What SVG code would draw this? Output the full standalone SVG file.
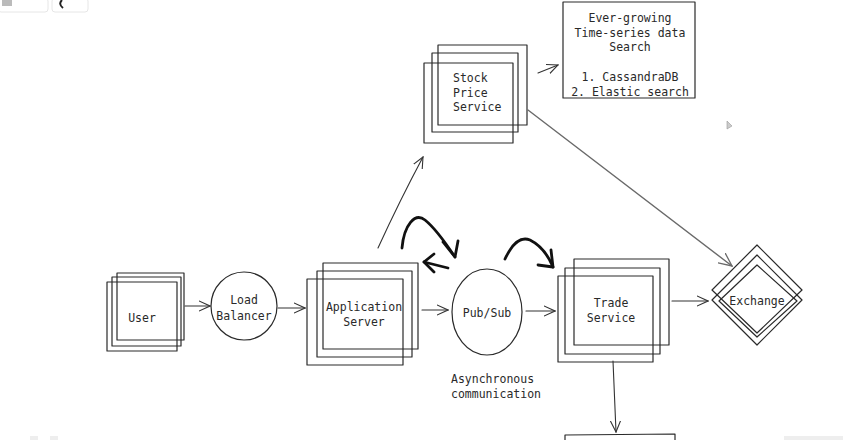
<svg xmlns="http://www.w3.org/2000/svg" width="843" height="440" viewBox="0 0 843 440">
<defs>
<style>
.s{fill:none;stroke:#2a2a2a;stroke-width:1.2;stroke-linejoin:round}
.c{fill:none;stroke:#333;stroke-width:1.1;stroke-linecap:round}
.g{fill:none;stroke:#6a6a6a;stroke-width:1.4;stroke-linecap:round}
.k{fill:none;stroke:#111;stroke-width:2.8;stroke-linecap:round;stroke-linejoin:round}
text{font-family:"DejaVu Sans Mono","Liberation Mono",monospace;font-size:11.5px;fill:#2a2a2a;text-anchor:middle}
.l{text-anchor:start}
.ui{fill:none;stroke:#e6e6e6;stroke-width:1}
</style>
<marker id="ah" viewBox="0 0 12 12" refX="11" refY="6" markerWidth="12" markerHeight="12" markerUnits="userSpaceOnUse" orient="auto">
<path d="M0,1 L11,6 L0,11" fill="none" stroke="#333" stroke-width="1.1" stroke-linecap="round"/>
</marker>
<marker id="ahg" viewBox="0 0 14 14" refX="13" refY="7" markerWidth="14" markerHeight="14" markerUnits="userSpaceOnUse" orient="auto">
<path d="M0,1 L13,7 L0,13" fill="none" stroke="#6a6a6a" stroke-width="1.3" stroke-linecap="round"/>
</marker>
</defs>
<rect width="843" height="440" fill="#fff"/>
<!-- faint UI chrome -->
<g id="ui">
<rect class="ui" x="-2" y="-2" width="50" height="14" rx="3"/>
<rect class="ui" x="52" y="-2" width="36" height="14" rx="3"/>
<rect x="2" y="0" width="10" height="6" fill="#bbb"/>
<path d="M62,0 Q58,4 63,8" fill="none" stroke="#222" stroke-width="2"/>
<rect x="784" y="436" width="60" height="6" fill="#eee"/>
<rect x="30" y="436" width="8" height="6" fill="#eee"/>
<rect x="50" y="436" width="8" height="6" fill="#eee"/>
<path d="M727,121 L727,129 L732,126 Z" fill="#ccc" stroke="#999" stroke-width="0.6"/>
</g>

<g id="user">
<rect class="s" x="117" y="273" width="67" height="67"/>
<rect class="s" x="112" y="277" width="69" height="69"/>
<rect class="s" x="107" y="282" width="70" height="69"/>
<text x="142" y="322">User</text>
</g>

<g id="load-balancer">
<ellipse class="s" cx="244" cy="306" rx="33" ry="34"/>
<text x="244" y="304">Load</text>
<text x="244" y="320">Balancer</text>
</g>

<g id="application-server">
<rect class="s" x="323" y="263" width="95" height="86"/>
<rect class="s" x="317" y="271" width="95" height="86"/>
<rect class="s" x="307" y="279" width="96" height="86"/>
<text x="364" y="311">Application</text>
<text x="364" y="326">Server</text>
</g>

<g id="pub-sub">
<ellipse class="s" cx="487" cy="312" rx="35" ry="43"/>
<text x="487" y="317">Pub/Sub</text>
</g>

<g id="async-label">
<text class="l" x="451" y="383">Asynchronous</text>
<text class="l" x="451" y="398">communication</text>
</g>

<g id="trade-service">
<rect class="s" x="574" y="259" width="95" height="86"/>
<rect class="s" x="565" y="268" width="95" height="86"/>
<rect class="s" x="558" y="276" width="95" height="86"/>
<text x="611" y="307">Trade</text>
<text x="611" y="322">Service</text>
</g>

<g id="exchange">
<path class="s" d="M757,245 L802,290 L757,333 L712,290 Z"/>
<path class="s" d="M757,255 L802,300 L757,345 L712,300 Z"/>
<path class="s" d="M757,265 L797,301 L757,337 L719,301 Z"/>
<text x="757" y="305">Exchange</text>
</g>

<g id="stock-price-service">
<rect class="s" x="438" y="45" width="89" height="80"/>
<rect class="s" x="432" y="53" width="86" height="79"/>
<rect class="s" x="424" y="63" width="89" height="80"/>
<text class="l" x="453" y="82">Stock</text>
<text class="l" x="453" y="97">Price</text>
<text class="l" x="453" y="111">Service</text>
</g>

<g id="time-series-store">
<rect class="s" x="563" y="2" width="132" height="96"/>
<text x="630" y="22">Ever-growing</text>
<text x="630" y="37">Time-series data</text>
<text x="630" y="51">Search</text>
<text x="630" y="81">1. CassandraDB</text>
<text x="630" y="96">2. Elastic search</text>
</g>

<g id="bottom-box">
<path class="s" d="M565,442 L565,435 L675,434 L675,442"/>
</g>

<g id="connectors">
<path class="c" d="M185,306 L210,306" marker-end="url(#ah)"/>
<path class="c" d="M278,308 L305,308" marker-end="url(#ah)"/>
<path class="c" d="M422,310 L448,310" marker-end="url(#ah)"/>
<path class="c" d="M526,311 L555,311" marker-end="url(#ah)"/>
<path class="c" d="M672,301 L708,301" marker-end="url(#ah)"/>
<path class="c" d="M378,248 Q400,200 423,157" marker-end="url(#ah)"/>
<path class="c" d="M538,73 L558,65" marker-end="url(#ah)"/>
<path class="g" d="M528,110 L732,266" marker-end="url(#ahg)"/>
<path class="c" d="M613,361 L616,432" marker-end="url(#ah)"/>
<!-- thick curved arrows -->
<path class="k" d="M402,248 C404,225 415,212 425,220 C435,228 445,242 455,257"/>
<path class="k" d="M443,242 L455,257 L458,241"/>
<path class="k" d="M448,268 L424,262"/>
<path class="k" d="M434,254 L424,262 L434,272"/>
<path class="k" d="M505,259 C512,244 520,236 530,240 C540,245 548,255 553,267"/>
<path class="k" d="M538,265 L553,267 L551,250"/>
</g>
</svg>
